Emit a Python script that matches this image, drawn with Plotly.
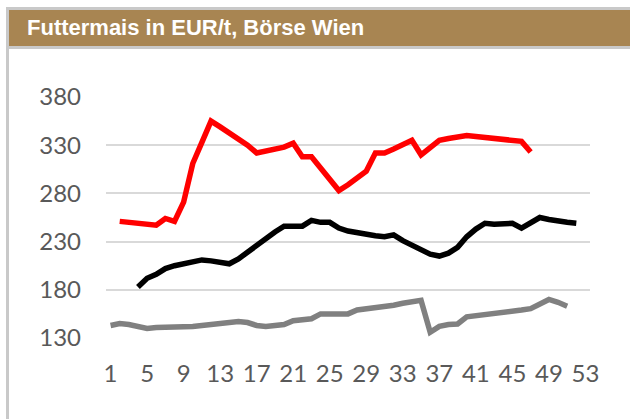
import plotly.graph_objects as go

# ---- data (week number -> EUR/t) ----
tick_weeks = list(range(1, 54, 4))

red_weeks = [2, 6, 7, 8, 9, 10, 11, 12, 13, 14, 15, 16, 17, 18, 19, 20, 21, 22, 23, 24,
             25, 26, 27, 28, 29, 30, 31, 32, 33, 34, 35, 36, 37, 38, 39, 40, 41, 42, 43, 44,
             45, 46, 47]
red_values = [251, 247, 254, 251, 271, 311, 333, 355, 349, 343, 337, 330, 322, 324, 326, 328, 332, 318, 318, 306,
              295, 283, 289, 296, 303, 322, 322, 326, 331, 335, 320, 327, 335, 337, 338, 340, 339, 338, 336, 335,
              334, 334, 323]

black_weeks = list(range(4, 53))
black_values = [183, 192, 196, 202, 205, 207, 209, 211, 210, 209, 207, 212, 219, 227, 233, 240, 246, 246, 246, 252,
                250, 250, 244, 241, 239, 237, 236, 235, 237, 231, 226, 221, 217, 215, 218, 224, 235, 243, 249, 248,
                248, 249, 244, 250, 255, 253, 251, 250, 249]

gray_weeks = list(range(1, 52))
gray_values = [143, 145, 144, 142, 140, 141, 141, 141, 141.5, 142, 143, 144, 145, 146, 147, 146, 143, 142, 142.5, 144,
               148, 149, 150, 155, 155, 154.5, 155, 159, 160, 161, 162.5, 164, 166, 168, 169, 136, 142, 144, 144.5, 152,
               153, 154.5, 156, 157, 158, 159, 160.5, 166, 170, 167, 163]

y_ticks = [130, 180, 230, 280, 330, 380]

TITLE = "Futtermais in EUR/t, Börse Wien"

W, H = 630, 419
ML, MR, MT, MB = 106, 40, 97, 81
PW = W - ML - MR
PH = H - MT - MB


def px(x):
    return (x - ML) / PW


def py(y):
    return (H - MB - y) / PH


fig = go.Figure()
for xs, ys, col in [(gray_weeks, gray_values, "#808080"),
                    (black_weeks, black_values, "#000000"),
                    (red_weeks, red_values, "#ff0000")]:
    fig.add_trace(go.Scatter(x=xs, y=ys, mode="lines",
                             line=dict(color=col, width=5.5, shape="linear"),
                             hoverinfo="skip", showlegend=False))

border = "#c9c9c9"
brown = "#a88552"
shapes = [
    dict(type="rect", xref="paper", yref="paper", x0=px(6), x1=px(632), y0=py(49), y1=py(7),
         fillcolor=border, line=dict(width=0), layer="below"),
    dict(type="rect", xref="paper", yref="paper", x0=px(9), x1=px(632), y0=py(46), y1=py(10),
         fillcolor=brown, line=dict(width=0), layer="below"),
    dict(type="rect", xref="paper", yref="paper", x0=px(6), x1=px(9), y0=py(421), y1=py(7),
         fillcolor=border, line=dict(width=0), layer="below"),
]

fig.update_layout(
    width=W, height=H,
    margin=dict(l=ML, r=MR, t=MT, b=MB, pad=0),
    paper_bgcolor="white", plot_bgcolor="white",
    shapes=shapes,
    annotations=[dict(text="<b>" + TITLE + "</b>", xref="paper", yref="paper",
                      x=px(25), y=py(28), xanchor="left", yanchor="middle", showarrow=False,
                      font=dict(family="Liberation Sans, Arial", size=22, color="white"))],
    xaxis=dict(range=[0.5, 53.5], tickvals=tick_weeks, ticktext=[str(t) for t in tick_weeks],
               showgrid=False, zeroline=False, showline=False, ticks="",
               tickfont=dict(family="Lato", size=24, color="#595959"), ticklabelstandoff=19),
    yaxis=dict(range=[130, 380], tickvals=y_ticks, showgrid=True, gridcolor="#d9d9d9", gridwidth=2,
               zeroline=False, showline=False, ticks="",
               tickfont=dict(family="Lato", size=24, color="#595959"), ticklabelstandoff=24),
)

fig.write_html("out.html", config={"displayModeBar": False},
               post_script="document.body.style.margin='0';document.body.style.padding='0';")
